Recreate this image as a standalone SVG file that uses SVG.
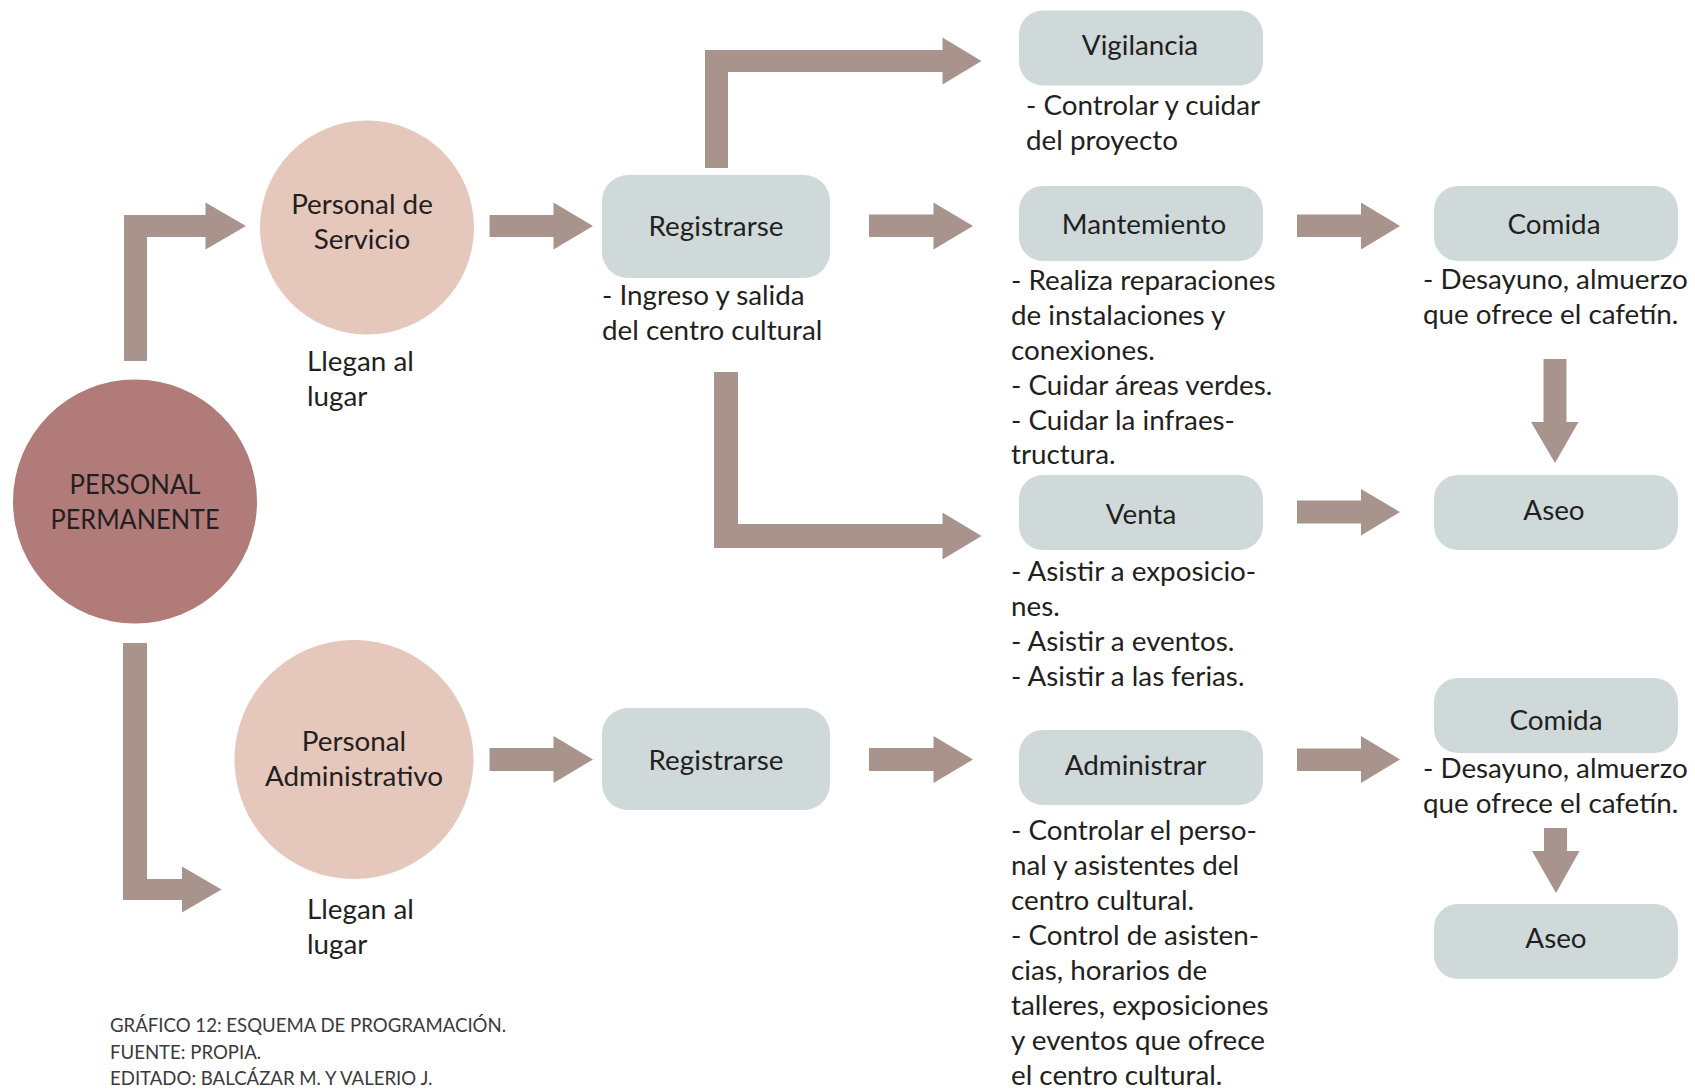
<svg xmlns="http://www.w3.org/2000/svg" width="1695" height="1089" viewBox="0 0 1695 1089">
<style>
.arr{fill:#a8938d}
.box{fill:#cfd9d9}
.t{font-family:Lato,"Liberation Sans",sans-serif;font-size:27.8px;fill:#231f20}
.c{text-anchor:middle}
.cap{font-family:Lato,"Liberation Sans",sans-serif;font-size:18.6px;fill:#3a3a3a}
</style>
<rect width="1695" height="1089" fill="#ffffff"/>
<g id="connectors">
<path class="arr" d="M124,361 V215 H205.5 V202.5 L246,226 L205.5,249.5 V237 H147 V361 Z"/>
<path class="arr" d="M489.5,215 H553.5 V202.5 L593,226 L553.5,249.5 V237 H489.5 Z"/>
<path class="arr" d="M705,168 V50 H942.5 V37.5 L981.5,61 L942.5,84.5 V72 H728 V168 Z"/>
<path class="arr" d="M869,214.5 H933.5 V202.5 L973,226 L933.5,249.5 V237 H869 Z"/>
<path class="arr" d="M714,372 H738 V524 H942.5 V512.5 L981.5,536 L942.5,559.5 V548 H714 Z"/>
<path class="arr" d="M1297,214.5 H1361 V202.5 L1400,226 L1361,249.5 V237 H1297 Z"/>
<path class="arr" d="M1543.5,359 H1566.5 V422 H1578.5 L1555,463 L1531,422 H1543.5 Z"/>
<path class="arr" d="M1297,500.5 H1361 V489 L1400,512 L1361,535.5 V523.5 H1297 Z"/>
<path class="arr" d="M123,643 H147 V879 H182 V866.5 L221.5,889.5 L182,912.5 V900 H123 Z"/>
<path class="arr" d="M489.5,748 H553.5 V736 L593,759.5 L553.5,783 V771 H489.5 Z"/>
<path class="arr" d="M869,748 H933.5 V736 L973,759.5 L933.5,783 V771 H869 Z"/>
<path class="arr" d="M1297,748.5 H1361 V736 L1400,759.5 L1361,783 V771 H1297 Z"/>
<path class="arr" d="M1544,828 H1567 V851 H1579.5 L1556,893 L1532,851 H1544 Z"/>
</g>
<g id="personal-permanente">
<circle cx="135" cy="501.5" r="122" fill="#b07b79"/>
<text class="t c" x="135" y="494" textLength="131" lengthAdjust="spacingAndGlyphs">PERSONAL</text>
<text class="t c" x="135" y="529" textLength="169" lengthAdjust="spacingAndGlyphs">PERMANENTE</text>
</g>
<g id="personal-servicio">
<circle cx="367" cy="227.5" r="107" fill="#e6c7bb"/>
<text class="t c" x="362" y="214">Personal de</text>
<text class="t c" x="362" y="249">Servicio</text>
<text class="t" x="307" y="371">Llegan al</text>
<text class="t" x="307" y="406">lugar</text>
</g>
<g id="personal-administrativo">
<circle cx="354" cy="759.5" r="119.5" fill="#e6c7bb"/>
<text class="t c" x="354" y="751">Personal</text>
<text class="t c" x="354" y="786">Administrativo</text>
<text class="t" x="307" y="919">Llegan al</text>
<text class="t" x="307" y="954">lugar</text>
</g>
<g id="registrarse-1">
<rect class="box" x="602" y="175" width="228" height="103" rx="26"/>
<text class="t c" x="716" y="236">Registrarse</text>
<text class="t" x="602" y="305">- Ingreso y salida</text>
<text class="t" x="602" y="340">del centro cultural</text>
</g>
<g id="vigilancia">
<rect class="box" x="1019" y="10.5" width="244" height="75" rx="24"/>
<text class="t c" x="1140" y="55">Vigilancia</text>
<text class="t" x="1026" y="115">- Controlar y cuidar</text>
<text class="t" x="1026" y="149.5">del proyecto</text>
</g>
<g id="mantemiento">
<rect class="box" x="1019" y="186" width="244" height="75" rx="24"/>
<text class="t c" x="1144" y="234">Mantemiento</text>
<text class="t" x="1011" y="289.5">- Realiza reparaciones</text>
<text class="t" x="1011" y="324.5">de instalaciones y</text>
<text class="t" x="1011" y="359.5">conexiones.</text>
<text class="t" x="1011" y="394.5">- Cuidar áreas verdes.</text>
<text class="t" x="1011" y="429.5">- Cuidar la infraes-</text>
<text class="t" x="1011" y="464">tructura.</text>
</g>
<g id="venta">
<rect class="box" x="1019" y="475" width="244" height="75" rx="24"/>
<text class="t c" x="1141" y="524">Venta</text>
<text class="t" x="1011" y="580.5">- Asistir a exposicio-</text>
<text class="t" x="1011" y="615.5">nes.</text>
<text class="t" x="1011" y="650.5">- Asistir a eventos.</text>
<text class="t" x="1011" y="685.5">- Asistir a las ferias.</text>
</g>
<g id="comida-1">
<rect class="box" x="1434" y="186" width="244" height="75" rx="24"/>
<text class="t c" x="1554" y="234">Comida</text>
<text class="t" x="1423" y="289">- Desayuno, almuerzo</text>
<text class="t" x="1423" y="324">que ofrece el cafetín.</text>
</g>
<g id="aseo-1">
<rect class="box" x="1434" y="475" width="244" height="75" rx="24"/>
<text class="t c" x="1554" y="520">Aseo</text>
</g>
<g id="registrarse-2">
<rect class="box" x="602" y="708" width="228" height="102" rx="26"/>
<text class="t c" x="716" y="769.5">Registrarse</text>
</g>
<g id="administrar">
<rect class="box" x="1019" y="730" width="244" height="75" rx="24"/>
<text class="t c" x="1135.5" y="774.5">Administrar</text>
<text class="t" x="1011" y="840">- Controlar el perso-</text>
<text class="t" x="1011" y="875">nal y asistentes del</text>
<text class="t" x="1011" y="910">centro cultural.</text>
<text class="t" x="1011" y="945">- Control de asisten-</text>
<text class="t" x="1011" y="980">cias, horarios de</text>
<text class="t" x="1011" y="1015">talleres, exposiciones</text>
<text class="t" x="1011" y="1050">y eventos que ofrece</text>
<text class="t" x="1011" y="1084.5">el centro cultural.</text>
</g>
<g id="comida-2">
<rect class="box" x="1434" y="678" width="244" height="75" rx="24"/>
<text class="t c" x="1556" y="729.5">Comida</text>
<text class="t" x="1423" y="778">- Desayuno, almuerzo</text>
<text class="t" x="1423" y="813">que ofrece el cafetín.</text>
</g>
<g id="aseo-2">
<rect class="box" x="1434" y="904" width="244" height="75" rx="24"/>
<text class="t c" x="1556" y="947.5">Aseo</text>
</g>
<g id="caption">
<text class="cap" x="110" y="1032">GRÁFICO 12: ESQUEMA DE PROGRAMACIÓN.</text>
<text class="cap" x="110" y="1059">FUENTE: PROPIA.</text>
<text class="cap" x="110" y="1085">EDITADO: BALCÁZAR M. Y VALERIO J.</text>
</g>
</svg>
